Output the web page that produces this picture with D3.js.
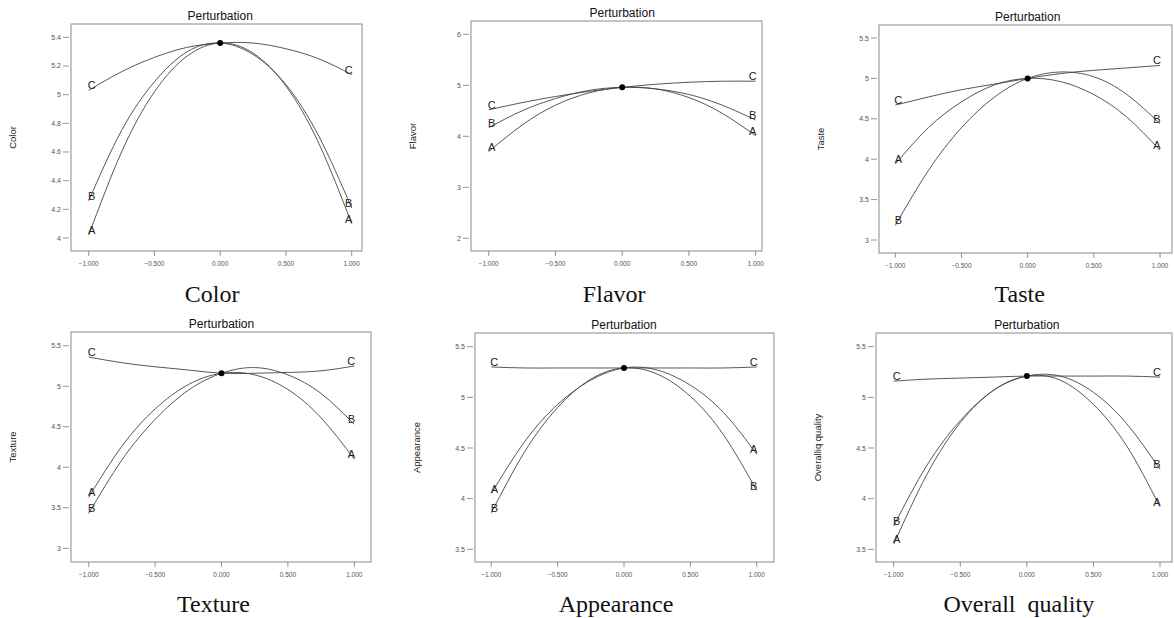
<!DOCTYPE html>
<html>
<head>
<meta charset="utf-8">
<script src="https://cdn.jsdelivr.net/npm/d3@7"></script>
<style>
  body { margin: 0; background: #fff; }
  svg { display: block; }
  text { font-family: Arial, "Liberation Sans", sans-serif; }
  text.caption { font-family: "Liberation Serif", "Times New Roman", serif; white-space: pre; }
</style>
</head>
<body>
<svg id="chart" width="1174" height="618"></svg>
<script>
// coded factor levels along the x axis
var xs = [-1, -0.75, -0.5, -0.25, 0, 0.25, 0.5, 0.75, 1];
var xTicks = [-1, -0.5, 0, 0.5, 1];

var panels = ["Color", "Flavor", "Taste", "Texture", "Appearance", "Overall quality"];
var yTitles = ["Color", "Flavor", "Taste", "Texture", "Appearance", "Overalliq quality"];
var captions = ["Color", "Flavor", "Taste", "Texture", "Appearance", "Overall  quality"];

var colorTicks = [4, 4.2, 4.4, 4.6, 4.8, 5, 5.2, 5.4];
var flavorTicks = [2, 3, 4, 5, 6];
var tasteTicks = [3, 3.5, 4, 4.5, 5, 5.5];
var textureTicks = [3, 3.5, 4, 4.5, 5, 5.5];
var appearanceTicks = [3.5, 4, 4.5, 5, 5.5];
var overallTicks = [3.5, 4, 4.5, 5, 5.5];

// responses
var colorA = [4.02, 4.60, 5.02, 5.27, 5.36, 5.29, 5.06, 4.66, 4.10];
var colorB = [4.26, 4.75, 5.09, 5.30, 5.36, 5.28, 5.07, 4.71, 4.21];
var colorC = [5.03, 5.16, 5.26, 5.33, 5.36, 5.36, 5.32, 5.25, 5.14];

var flavorA = [3.70, 4.22, 4.61, 4.85, 4.96, 4.93, 4.76, 4.45, 4.01];
var flavorB = [4.17, 4.50, 4.74, 4.90, 4.96, 4.93, 4.82, 4.61, 4.32];
var flavorC = [4.52, 4.66, 4.78, 4.88, 4.96, 5.02, 5.06, 5.08, 5.08];

var tasteA = [3.94, 4.39, 4.71, 4.92, 5.00, 4.96, 4.80, 4.52, 4.11];
var tasteB = [3.18, 3.86, 4.39, 4.77, 5.00, 5.08, 5.02, 4.80, 4.44];
var tasteC = [4.67, 4.77, 4.86, 4.93, 5.00, 5.06, 5.10, 5.13, 5.16];

var textureA = [3.63, 4.26, 4.72, 5.02, 5.16, 5.14, 4.96, 4.61, 4.10];
var textureB = [3.43, 4.09, 4.59, 4.95, 5.16, 5.23, 5.14, 4.91, 4.53];
var textureC = [5.36, 5.29, 5.24, 5.20, 5.16, 5.16, 5.17, 5.19, 5.25];

var appearanceA = [4.05, 4.56, 4.93, 5.17, 5.29, 5.27, 5.12, 4.85, 4.44];
var appearanceB = [3.86, 4.46, 4.90, 5.18, 5.29, 5.23, 5.01, 4.63, 4.08];
var appearanceC = [5.30, 5.29, 5.29, 5.29, 5.29, 5.29, 5.29, 5.29, 5.30];

var overallA = [3.55, 4.24, 4.75, 5.07, 5.21, 5.17, 4.93, 4.52, 3.92];
var overallB = [3.73, 4.33, 4.77, 5.07, 5.21, 5.21, 5.05, 4.74, 4.29];
var overallC = [5.16, 5.18, 5.19, 5.20, 5.21, 5.21, 5.21, 5.21, 5.20];

var tickSets = [colorTicks, flavorTicks, tasteTicks, textureTicks, appearanceTicks, overallTicks];
var seriesSets = [
  [colorA, colorB, colorC],
  [flavorA, flavorB, flavorC],
  [tasteA, tasteB, tasteC],
  [textureA, textureB, textureC],
  [appearanceA, appearanceB, appearanceC],
  [overallA, overallB, overallC]
];
var letters = ["A", "B", "C"];

// frame box and where the first/last ticks fall, per panel
var frames = [
  {l: 71,  r: 362,  t: 24,  b: 251, xa: 88.7,  xb: 351.7, ya: 238,   yb: 37.3,  cap: 302},
  {l: 471, r: 762,  t: 21,  b: 251, xa: 488.7, xb: 755.7, ya: 238.3, yb: 34.3,  cap: 302},
  {l: 879, r: 1172, t: 25,  b: 253, xa: 895.3, xb: 1160,  ya: 240,   yb: 38,    cap: 302},
  {l: 71,  r: 371,  t: 332, b: 562, xa: 88.7,  xb: 354.3, ya: 548.3, yb: 345.7, cap: 612},
  {l: 475, r: 774,  t: 333, b: 562, xa: 491.3, xb: 756.7, ya: 549.3, yb: 346.7, cap: 612},
  {l: 876, r: 1172, t: 333, b: 562, xa: 893.7, xb: 1160,  ya: 549.3, yb: 346.7, cap: 612}
];

var svg = d3.select('#chart');
var fmt = d3.format('.3f');

function draw_panel(i){
  var f = frames[i];
  var ticks = tickSets[i];
  var x = d3.scaleLinear().domain([-1, 1]).range([f.xa, f.xb]);
  var y = d3.scaleLinear().domain([ticks[0], ticks[ticks.length - 1]]).range([f.ya, f.yb]);
  var g = svg.append('g');

  g.append('rect')
    .attr('x', f.l).attr('y', f.t)
    .attr('width', f.r - f.l).attr('height', f.b - f.t)
    .attr('fill', 'none').attr('stroke', '#8a8a8a').attr('stroke-width', 1);

  // y ticks
  g.selectAll('line.yt').data(ticks).enter().append('line')
    .attr('x1', f.l - 8).attr('x2', f.l - 2)
    .attr('y1', function(d){ return y(d); }).attr('y2', function(d){ return y(d); })
    .attr('stroke', '#777').attr('stroke-width', 0.8);
  g.selectAll('text.yt').data(ticks).enter().append('text')
    .attr('x', f.l - 10).attr('y', function(d){ return y(d) + 2.5; })
    .attr('text-anchor', 'end').attr('font-size', 7).attr('fill', '#555')
    .text(function(d){ return d; });

  // x ticks
  g.selectAll('line.xt').data(xTicks).enter().append('line')
    .attr('x1', function(d){ return x(d); }).attr('x2', function(d){ return x(d); })
    .attr('y1', f.b).attr('y2', f.b + 5)
    .attr('stroke', '#777').attr('stroke-width', 0.8);
  g.selectAll('text.xt').data(xTicks).enter().append('text')
    .attr('x', function(d){ return x(d); }).attr('y', f.b + 14.5)
    .attr('text-anchor', 'middle').attr('font-size', 6.5).attr('fill', '#555')
    .text(function(d){ return fmt(d); });

  // titles
  g.append('text')
    .attr('x', x(0)).attr('y', f.t - 4)
    .attr('text-anchor', 'middle').attr('font-size', 12).attr('fill', '#111')
    .text('Perturbation');
  g.append('text')
    .attr('transform', 'translate(' + (f.l - 55) + ',' + ((f.t + f.b) / 2) + ') rotate(-90)')
    .attr('text-anchor', 'middle').attr('font-size', 9.5).attr('fill', '#222')
    .text(yTitles[i]);
  g.append('text').attr('class', 'caption')
    .attr('x', x(0) - 8).attr('y', f.cap)
    .attr('text-anchor', 'middle').attr('font-size', 24).attr('fill', '#111')
    .text(captions[i]);

  var line = d3.line()
    .x(function(d, j){ return x(xs[j]); })
    .y(function(d){ return y(d); })
    .curve(d3.curveNatural);

  seriesSets[i].forEach(function(vals, k){
    g.append('path').attr('d', line(vals))
      .attr('fill', 'none').attr('stroke', '#444').attr('stroke-width', 0.9);
    var n = vals.length - 1;
    g.append('text').attr('x', x(xs[0]) + 3).attr('y', y(vals[0]) - 1)
      .attr('text-anchor', 'middle').attr('font-size', 11).attr('fill', '#222')
      .text(letters[k]);
    g.append('text').attr('x', x(xs[n]) - 3).attr('y', y(vals[n]) - 1)
      .attr('text-anchor', 'middle').attr('font-size', 11).attr('fill', '#222')
      .text(letters[k]);
  });

  // reference point
  g.append('circle').attr('cx', x(0)).attr('cy', y(seriesSets[i][0][4]))
    .attr('r', 3).attr('fill', '#000');
}

for (var i = 0; i < panels.length; i += 1){
  draw_panel(i);
}
</script>
</body>
</html>
